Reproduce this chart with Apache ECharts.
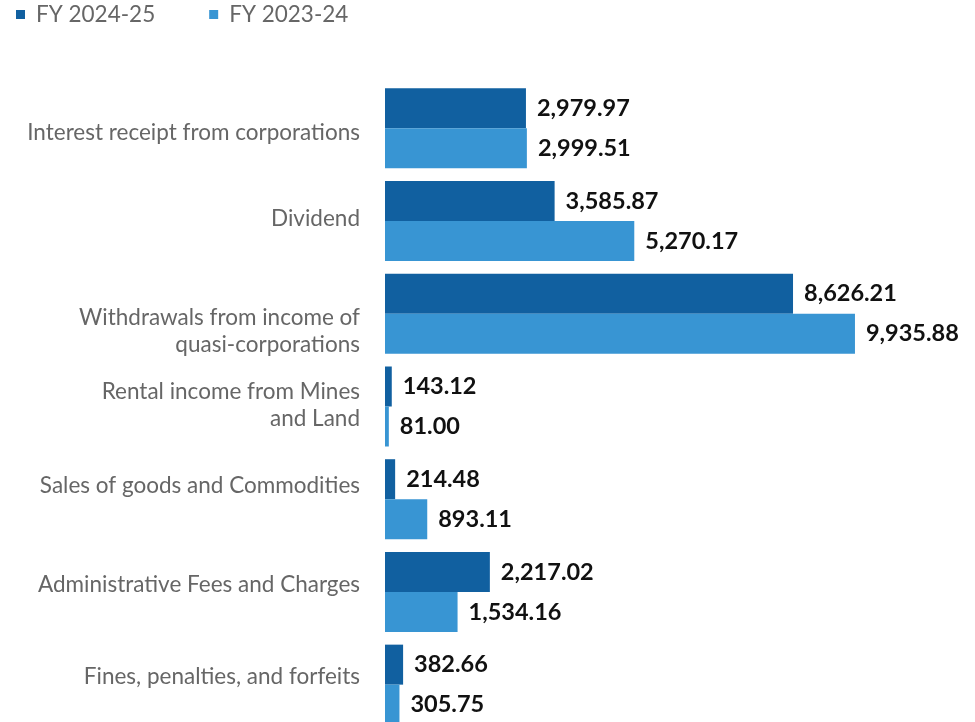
<!DOCTYPE html>
<html>
<head>
<meta charset="utf-8">
<script src="https://cdn.jsdelivr.net/npm/echarts@6/dist/echarts.min.js"></script>
<style>
  html, body { margin: 0; padding: 0; background: #fff; }
  #chart { width: 975px; height: 722px; }
</style>
</head>
<body>
<div id="chart"></div>
<script>
// Non-tax revenue components (₹ crore), top to bottom
const categories = [
  'Interest receipt from corporations',
  'Dividend',
  'Withdrawals from income of\nquasi-corporations',
  'Rental income from Mines\nand Land',
  'Sales of goods and Commodities',
  'Administrative Fees and Charges',
  'Fines, penalties, and forfeits'
];
const fy2425 = [2979.97, 3585.87, 8626.21, 143.12, 214.48, 2217.02, 382.66];
const fy2324 = [2999.51, 5270.17, 9935.88, 81.00, 893.11, 1534.16, 305.75];
const seriesNames = ['FY 2024-25', 'FY 2023-24'];

// Vertical nudge (px, + is down) for each category label
const labelNudge = [4, -2, 17, -1, -13, -7, -8];

const fmt = v => v.toLocaleString('en-US', { minimumFractionDigits: 2, maximumFractionDigits: 2 });

const catFont = { color: '#666', fontSize: 22.5, fontFamily: 'Lato', lineHeight: 27 };

// Rich styles: asymmetric padding inside a fixed line height shifts each line
const catRich = {};
labelNudge.forEach((d, i) => {
  catRich['p' + i] = Object.assign({}, catFont, {
    padding: [Math.max(2 * d, 0), 0, Math.max(-2 * d, 0), 0]
  });
});

function catFormatter(value, index) {
  return value.split('\n').map(ln => '{p' + index + '|' + ln + '}').join('\n');
}

const valueLabel = {
  show: true,
  position: 'right',
  distance: 11,
  color: '#111',
  fontFamily: 'Lato',
  fontWeight: 'bold',
  fontSize: 23.5,
  formatter: p => fmt(p.value)
};

const chart = echarts.init(document.getElementById('chart'));
chart.setOption({
  animation: false,
  legend: {
    left: 16,
    top: 3,
    padding: 0,
    itemWidth: 9,
    itemHeight: 9,
    itemGap: 54,
    icon: 'rect',
    textStyle: { color: '#666', fontSize: 22.5, fontFamily: 'Lato', padding: [0, 0, 0, 6] },
    data: seriesNames
  },
  grid: { left: 385, right: 117, top: 82, height: 649, outerBoundsMode: 'none', containLabel: false },
  xAxis: {
    type: 'value',
    min: 0,
    max: 10000,
    show: false
  },
  yAxis: {
    type: 'category',
    inverse: true,
    data: categories,
    axisLine: { show: false },
    axisTick: { show: false },
    axisLabel: Object.assign({}, catFont, {
      margin: 25,
      align: 'right',
      formatter: catFormatter,
      rich: catRich
    })
  },
  series: [
    {
      name: seriesNames[0],
      type: 'bar',
      data: fy2425,
      barWidth: 40,
      barGap: '0%',
      itemStyle: { color: '#1160a0' },
      label: valueLabel
    },
    {
      name: seriesNames[1],
      type: 'bar',
      data: fy2324,
      barWidth: 40,
      barGap: '0%',
      itemStyle: { color: '#3895d3' },
      label: valueLabel
    }
  ]
});
</script>
</body>
</html>
